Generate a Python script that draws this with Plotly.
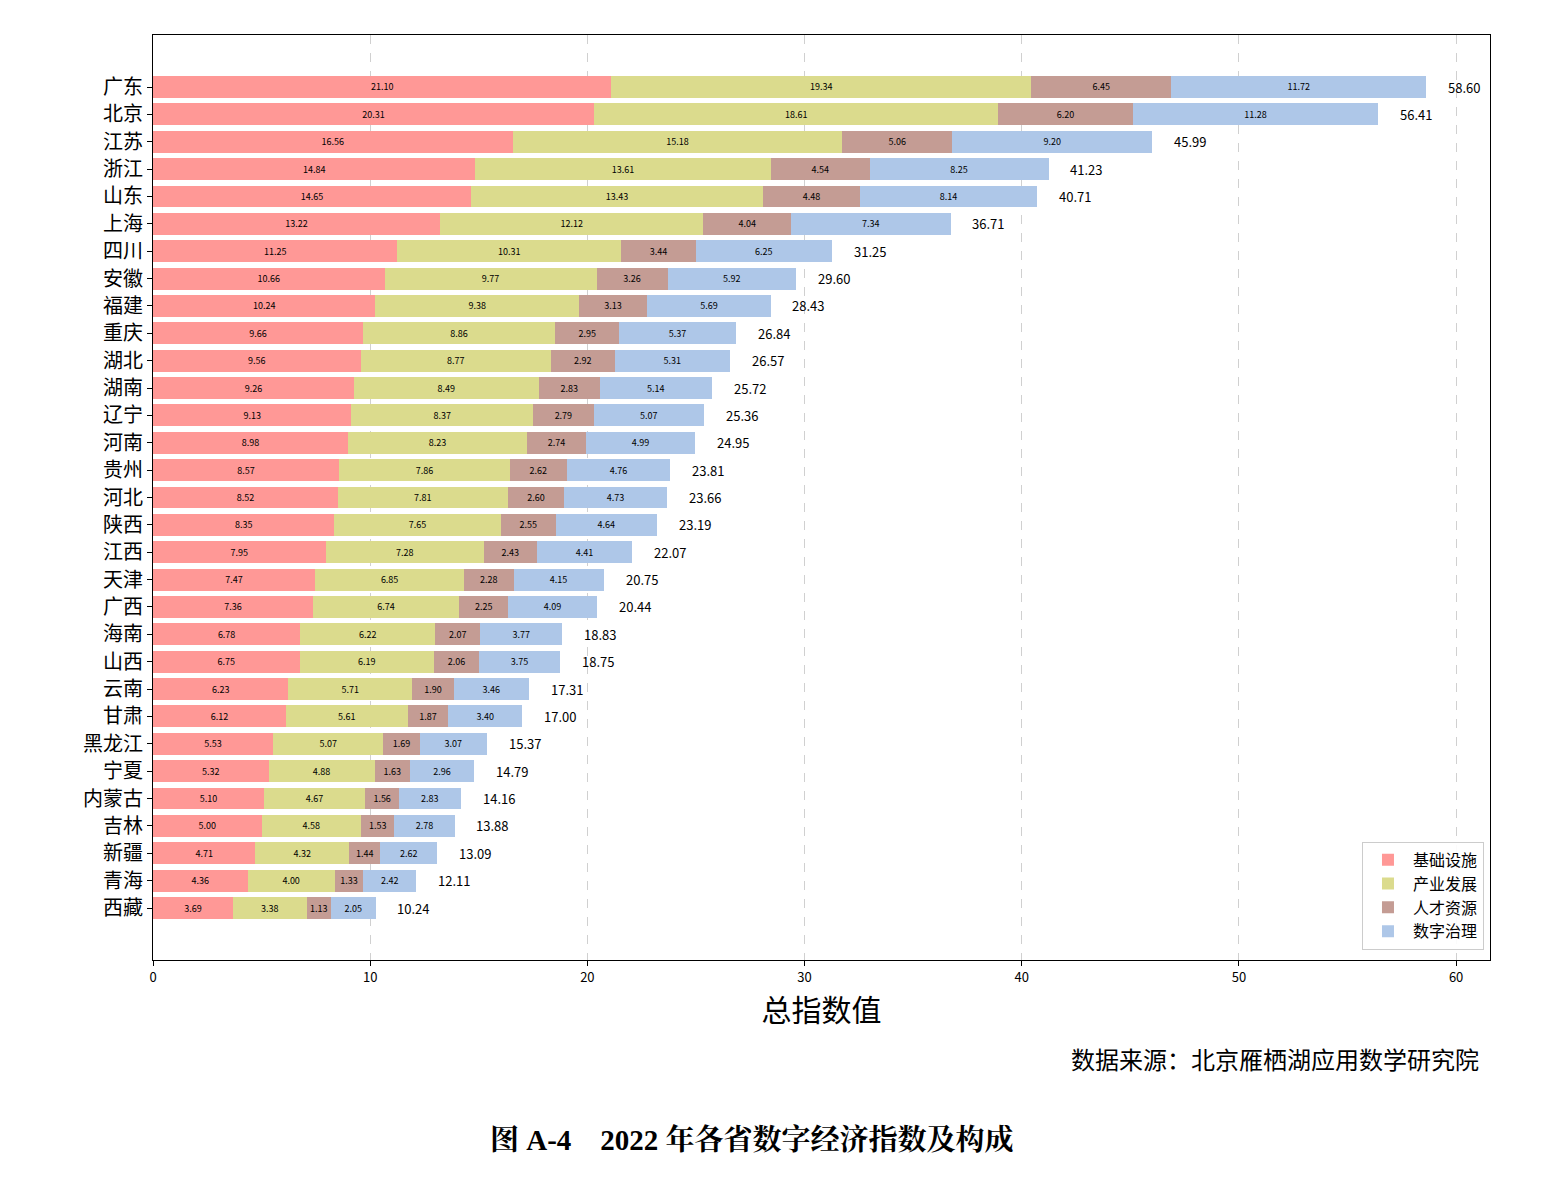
import plotly.graph_objects as go

provinces = ["广东", "北京", "江苏", "浙江", "山东", "上海", "四川", "安徽", "福建", "重庆",
             "湖北", "湖南", "辽宁", "河南", "贵州", "河北", "陕西", "江西", "天津", "广西",
             "海南", "山西", "云南", "甘肃", "黑龙江", "宁夏", "内蒙古", "吉林", "新疆", "青海", "西藏"]
infra = [21.10, 20.31, 16.56, 14.84, 14.65, 13.22, 11.25, 10.66, 10.24, 9.66, 9.56, 9.26, 9.13,
         8.98, 8.57, 8.52, 8.35, 7.95, 7.47, 7.36, 6.78, 6.75, 6.23, 6.12, 5.53, 5.32, 5.10,
         5.00, 4.71, 4.36, 3.69]
industry = [19.34, 18.61, 15.18, 13.61, 13.43, 12.12, 10.31, 9.77, 9.38, 8.86, 8.77, 8.49, 8.37,
            8.23, 7.86, 7.81, 7.65, 7.28, 6.85, 6.74, 6.22, 6.19, 5.71, 5.61, 5.07, 4.88, 4.67,
            4.58, 4.32, 4.00, 3.38]
talent = [6.45, 6.20, 5.06, 4.54, 4.48, 4.04, 3.44, 3.26, 3.13, 2.95, 2.92, 2.83, 2.79, 2.74,
          2.62, 2.60, 2.55, 2.43, 2.28, 2.25, 2.07, 2.06, 1.90, 1.87, 1.69, 1.63, 1.56, 1.53,
          1.44, 1.33, 1.13]
gov = [11.72, 11.28, 9.20, 8.25, 8.14, 7.34, 6.25, 5.92, 5.69, 5.37, 5.31, 5.14, 5.07, 4.99,
       4.76, 4.73, 4.64, 4.41, 4.15, 4.09, 3.77, 3.75, 3.46, 3.40, 3.07, 2.96, 2.83, 2.78,
       2.62, 2.42, 2.05]
totals = [58.60, 56.41, 45.99, 41.23, 40.71, 36.71, 31.25, 29.60, 28.43, 26.84, 26.57, 25.72,
          25.36, 24.95, 23.81, 23.66, 23.19, 22.07, 20.75, 20.44, 18.83, 18.75, 17.31, 17.00,
          15.37, 14.79, 14.16, 13.88, 13.09, 12.11, 10.24]
series_names = ["基础设施", "产业发展", "人才资源", "数字治理"]
series_values = [infra, industry, talent, gov]
colors = ["#ff9896", "#dbdb8d", "#c49c94", "#aec7e8"]
x_ticks = [0, 10, 20, 30, 40, 50, 60]

FONT = "Noto Sans CJK SC"

fig = go.Figure()
for name, vals, col in zip(series_names, series_values, colors):
    fig.add_trace(go.Bar(
        y=provinces, x=vals, name=name, orientation="h",
        marker=dict(color=col, line=dict(width=0)),
        width=0.8,
        text=[f"{v:.2f}" for v in vals],
        textposition="inside", insidetextanchor="middle",
        textfont=dict(size=9, color="black", family=FONT),
        constraintext="none",
    ))

for p, t in zip(provinces, totals):
    fig.add_annotation(x=t, y=p, text=f"{t:.2f}", showarrow=False, xanchor="left",
                       xshift=20, font=dict(size=13, color="black", family=FONT))

fig.add_annotation(x=0.993, y=-0.107, xref="paper", yref="paper", text="数据来源：北京雁栖湖应用数学研究院",
                   showarrow=False, xanchor="right", yanchor="middle",
                   font=dict(size=24, color="black", family=FONT))
fig.add_annotation(x=0.448, y=-0.195, xref="paper", yref="paper",
                   text="<b>图 A-4　2022 年各省数字经济指数及构成</b>",
                   showarrow=False, xanchor="center", yanchor="middle",
                   font=dict(size=29, color="black",
                             family="Liberation Serif, Noto Serif CJK SC, Noto Sans CJK SC"))

fig.update_layout(
    barmode="stack",
    width=1567, height=1192,
    margin=dict(l=153, r=77, t=35, b=232),
    plot_bgcolor="white", paper_bgcolor="white",
    font=dict(family=FONT, color="black"),
    legend=dict(x=0.9955, y=0.011, xanchor="right", yanchor="bottom",
                bgcolor="rgba(255,255,255,0.9)", bordercolor="#cccccc", borderwidth=1,
                font=dict(size=16, family=FONT), traceorder="normal",
                itemwidth=40, tracegroupgap=2),
    showlegend=True,
)
fig.update_xaxes(range=[0, 61.56], tickvals=x_ticks, ticks="outside", ticklen=5,
                 tickcolor="black", tickfont=dict(size=13), layer="above traces",
                 showgrid=True, gridcolor="#d0d0d0", griddash="dash", gridwidth=1,
                 showline=True, linecolor="black", linewidth=1, mirror=True, zeroline=False,
                 title=dict(text="总指数值", font=dict(size=30), standoff=10))
fig.update_yaxes(type="category", range=[31.9, -1.9], ticks="outside", ticklen=5,
                 tickcolor="black", tickfont=dict(size=20),
                 showgrid=False, showline=True, linecolor="black", linewidth=1, mirror=True)

fig.write_html("out.html")
